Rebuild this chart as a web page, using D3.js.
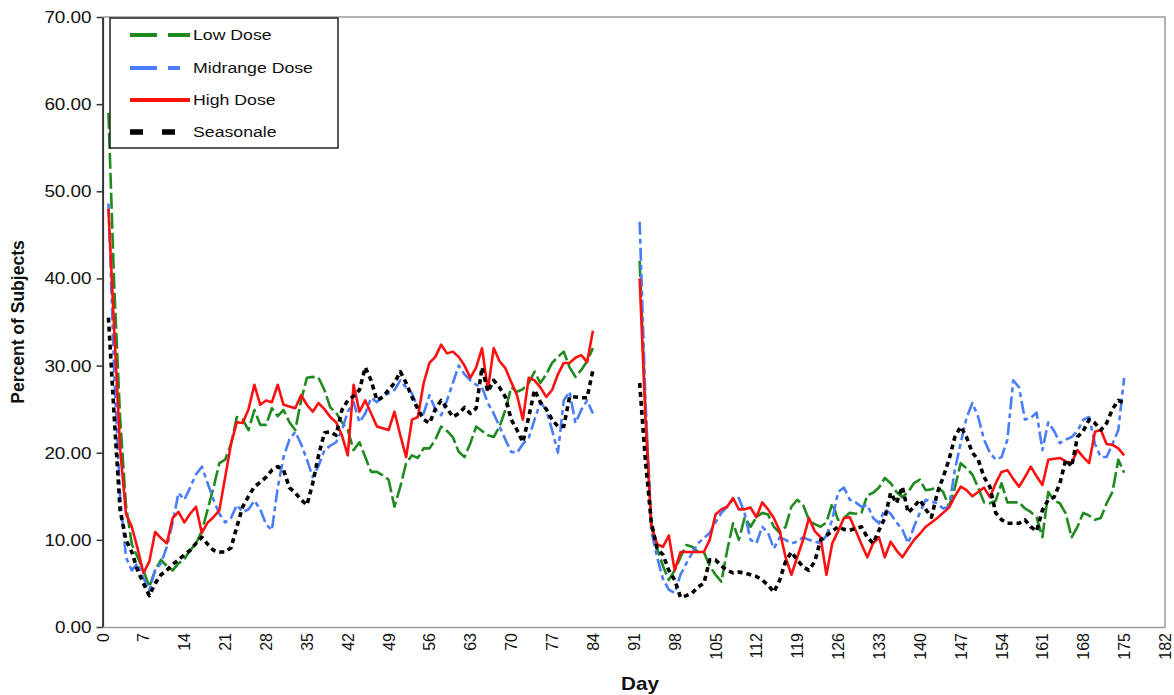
<!DOCTYPE html>
<html>
<head>
<meta charset="utf-8">
<script src="https://cdn.jsdelivr.net/npm/d3@7"></script>
<style>
  body { margin: 0; background: #fff; }
  svg { display: block; }
  text { font-family: "Liberation Sans", Arial, sans-serif; fill: #111; }
</style>
</head>
<body>
<div id="chart"></div>
<script>
// days in each treatment cycle
const cycle1Days = d3.range(1, 85);
const cycle2Days = d3.range(92, 176);

const lowDose1 = [59, 39, 24, 14, 9.5, 8, 6.5, 4.6, 6.5, 7.7,
  7, 6.5, 7.3, 7.8, 8.8, 9.6, 11, 13.5, 16, 18.8,
  19.2, 21, 24.1, 23.8, 22.6, 24.9, 23.2, 23.2, 25.1, 24.2,
  24.9, 23.5, 22.6, 26, 28.6, 28.7, 28.6, 27.2, 25.2, 24.6,
  23.5, 22.6, 20.3, 21.2, 19.5, 17.8, 17.8, 17.4, 16.9, 13.8,
  16.1, 18.8, 19.7, 19.4, 20.5, 20.5, 21.5, 23, 22.5, 21.8,
  20.1, 19.5, 21.1, 23, 22.5, 22, 21.8, 23, 24.9, 27.5,
  27, 27.3, 28, 29.3, 28, 29, 30.3, 31, 31.6, 29.8,
  28.7, 29.5, 30.5, 32];
const lowDose2 = [42, 25, 12, 9, 7, 5.4, 6.5, 8, 9.4, 9.2,
  8.6, 8.6, 7, 6, 5.2, 8.8, 11.9, 10, 12.6, 11.5,
  12.6, 13.1, 12.9, 11.5, 10.8, 11.5, 13.8, 14.6, 14, 12.3,
  11.8, 11.5, 12, 14.2, 12.3, 12.5, 13.1, 13, 13.1, 15.1,
  15.4, 16, 17.1, 16.5, 15.5, 14.9, 15.5, 16.5, 16.9, 15.7,
  15.8, 16.1, 15.5, 13.8, 16, 18.8, 18.2, 17.5, 16, 14.3,
  14.2, 14.5, 16.5, 14.3, 14.3, 14.3, 13.6, 13.2, 12.6, 10.3,
  15.5, 14.5, 14.2, 13, 10.3, 11.5, 13.1, 12.8, 12.3, 12.5,
  14.2, 15.5, 19.2, 17.7];

const midDose1 = [48.6, 29, 15, 8, 6.5, 7.3, 5.6, 4.2, 6.5, 7.3,
  9.2, 12, 15.4, 14.6, 16, 17.5, 18.4, 16.5, 14.6, 13,
  12, 12.5, 14, 13.2, 13.5, 14.5, 13.5, 11.8, 11.1, 16,
  19.5, 21.5, 22.4, 21, 19.2, 17.2, 18.5, 20.3, 20.8, 21.2,
  22.6, 24.7, 25.8, 23.5, 24.5, 26.3, 25.8, 26.5, 26.8, 27.2,
  28.3, 27.5, 26.8, 25.2, 24.5, 26.6, 25, 24.3, 26, 28,
  30, 29, 28.3, 27.8, 27.5, 25.7, 24.5, 23, 21.5, 20.1,
  20, 21, 21.7, 23.8, 25.8, 24.9, 22.6, 20, 26, 27,
  23.4, 24.9, 26, 24.5];
const midDose2 = [46.5, 26, 11, 8, 5.5, 4.3, 3.9, 6, 7.3, 8.5,
  9.6, 10.2, 10.8, 12, 13.1, 13.8, 14.6, 14.8, 13, 10,
  9.6, 11.5, 10.8, 9, 10.3, 10, 9.6, 9.8, 10.3, 10,
  9.8, 9.6, 10.5, 12.3, 15.5, 16, 14.6, 14.3, 13.8, 14,
  12.5, 11.9, 13.5, 13, 12, 11.2, 9.6, 11.5, 13.1, 14.6,
  14.4, 14.2, 13.6, 13.8, 18, 21.1, 24, 25.7, 24.1, 21.5,
  20, 19.2, 19.5, 21.5, 28.3, 27.5, 23.8, 24, 24.6, 20.3,
  23.5, 22.5, 21.1, 21.5, 21.8, 22.5, 23.8, 24.1, 21, 19.5,
  19.5, 21, 22.6, 28.6];

const highDose1 = [48, 34, 20.5, 13, 11.5, 9, 6.2, 7.5, 10.9, 10.2,
  9.6, 12.5, 13.2, 12, 13, 13.8, 10.8, 12, 12.6, 13.4,
  17.2, 21, 23.5, 23.4, 25, 27.8, 25.5, 26, 25.8, 27.8,
  25.5, 25.3, 25.1, 26.6, 25.5, 24.7, 25.7, 25, 24.1, 23.5,
  22, 19.7, 27.8, 24.7, 26, 24.5, 23, 22.8, 22.6, 24.7,
  22, 19.5, 23.8, 24.1, 28, 30.3, 31, 32.4, 31.4, 31.6,
  31, 30, 28.6, 29.8, 32, 27.2, 32, 30.5, 29.7, 28.1,
  26.6, 23.8, 28.6, 28.3, 27.5, 26.4, 27.2, 29, 30.3, 30.3,
  30.9, 31.2, 30.4, 34];
const highDose2 = [40, 24, 11.5, 9.5, 9.2, 10.5, 6.5, 8.6, 8.6, 8.6,
  8.6, 8.6, 10, 12.9, 13.5, 13.8, 14.8, 13.5, 13.5, 13.7,
  12.6, 14.3, 13.5, 12.5, 11, 8, 6, 8, 10, 12.5,
  11, 10.3, 6, 9.6, 11, 12.5, 12.6, 11.1, 9.5, 8,
  9.6, 10.3, 8, 9.8, 8.8, 8, 9, 10, 10.7, 11.5,
  12, 12.5, 13.1, 13.7, 15, 16.1, 15.7, 15, 15.5, 16,
  14.9, 16.5, 17.8, 18, 17, 16.1, 17.2, 18.4, 17.3, 16.3,
  19.2, 19.3, 19.4, 19, 18.8, 20.3, 19.5, 18.8, 22.4, 22.6,
  21, 20.9, 20.5, 19.7];

const seasonale1 = [35.5, 24, 13.4, 10, 8.6, 6.5, 5, 3.6, 5, 6,
  6.5, 7.2, 7.7, 8.3, 8.8, 9.6, 10.3, 9.5, 8.8, 8.6,
  8.6, 9.1, 11.5, 13.8, 15, 16.1, 16.6, 17.2, 18, 18.4,
  18, 16, 15.4, 14.6, 14, 16.5, 19.7, 22.3, 22.4, 22,
  24.9, 26, 26.5, 27.2, 29.8, 28.3, 26, 26.4, 27.2, 28,
  29.3, 28, 26.4, 25, 23.8, 23.4, 25, 26, 25.1, 24.1,
  24.5, 25.2, 24.5, 25.1, 29.8, 27, 28.3, 27.5, 26.4, 23.8,
  22.6, 21.2, 24.1, 27.2, 25.8, 25, 23.8, 23, 23, 26.4,
  26.4, 26.3, 26.3, 29.5];
const seasonale2 = [28, 19, 12, 9, 8.3, 6.5, 5.4, 3.4, 3.6, 3.9,
  4.6, 5, 7.7, 7.7, 7, 6.5, 6.2, 6.3, 6.2, 6,
  5.8, 5.4, 4.8, 4, 5.4, 7.5, 8.6, 7.7, 6.9, 6.5,
  7.5, 10, 10.5, 11, 11.5, 11.2, 11.1, 11.3, 11.5, 10.3,
  9.6, 11.1, 12.5, 15.4, 14.2, 16.1, 13.1, 13.8, 14.6, 13.5,
  12.6, 15.4, 17.2, 19.2, 21.8, 23, 21.8, 20, 19.2, 17.2,
  16.1, 13.1, 12.3, 11.9, 11.9, 11.9, 12.3, 11.5, 11, 13.4,
  14.6, 14.9, 16.5, 19.2, 18.4, 21.8, 22.5, 23.8, 23.4, 22.6,
  23.4, 25, 26, 25.7];

const seriesNames = ['Low Dose', 'Midrange Dose', 'High Dose', 'Seasonale'];
const yTicks = [0, 10, 20, 30, 40, 50, 60, 70];
const xTicks = d3.range(0, 183, 7);

const width = 1174;
const height = 695;

const series = [
  {name: seriesNames[0], color: '#1f8a1f', width: 2.6, dash: '16,4', legendDash: '27,11', legendWidth: 4, parts: [lowDose1, lowDose2]},
  {name: seriesNames[1], color: '#4a7dfa', width: 2.6, dash: '13,4,5,4', legendDash: '27,11,12,11', legendWidth: 4, parts: [midDose1, midDose2]},
  {name: seriesNames[2], color: '#ff1010', width: 2.6, dash: null, legendDash: null, legendWidth: 4, parts: [highDose1, highDose2]},
  {name: seriesNames[3], color: '#000', width: 3.6, dash: '5,4', legendDash: '13,19', legendWidth: 5.5, parts: [seasonale1, seasonale2]}
];

const svg = d3.select('#chart').append('svg')
    .attr('width', width)
    .attr('height', height);

const x = d3.scaleLinear().domain([0, 182]).range([102.6, 1165]);
const y = d3.scaleLinear().domain([0, 70]).range([627, 17]);

// plot frame (grey on top, right and bottom)
svg.append('path')
    .attr('d', `M${x(0)},${y(70)}H${x(182)}V${y(0)}`)
    .attr('fill', 'none')
    .attr('stroke', '#9a9a9a')
    .attr('stroke-width', 1.5);

// y axis
const yAxis = svg.append('g')
    .attr('transform', `translate(${x(0)},0)`)
    .call(d3.axisLeft(y).tickValues(yTicks).tickFormat(d3.format('.2f')).tickSize(6).tickSizeOuter(0));
yAxis.select('.domain').attr('stroke', '#333').attr('stroke-width', 2);
yAxis.selectAll('.tick line').attr('stroke', '#333').attr('stroke-width', 1.5);
yAxis.selectAll('.tick text')
    .attr('x', null)
    .attr('dy', null)
    .attr('text-anchor', 'end')
    .attr('dominant-baseline', 'central')
    .style('font-size', '16px')
    .attr('transform', 'translate(-11,0) scale(1.18,1)');

// x axis
const xAxis = svg.append('g')
    .attr('transform', `translate(0,${y(0)})`)
    .call(d3.axisBottom(x).tickValues(xTicks).tickSize(0).tickSizeOuter(0));
xAxis.select('.domain').attr('stroke', '#9a9a9a').attr('stroke-width', 1.5);
xAxis.selectAll('.tick text')
    .attr('y', null)
    .attr('dy', null)
    .attr('text-anchor', 'end')
    .attr('dominant-baseline', 'central')
    .style('font-size', '16px')
    .attr('transform', 'translate(0,6) rotate(-90)');
svg.selectAll('.tick text').attr('fill', '#111');

// axis titles
svg.append('text')
    .attr('transform', 'translate(640,690) scale(1.15,1)')
    .attr('text-anchor', 'middle')
    .style('font-size', '18px')
    .style('font-weight', 'bold')
    .text('Day');

svg.append('text')
    .attr('transform', 'translate(24,322) rotate(-90)')
    .attr('text-anchor', 'middle')
    .style('font-size', '17.5px')
    .style('font-weight', 'bold')
    .text('Percent of Subjects');

// lines, one path per cycle
const line = d3.line()
    .x(d => x(d.day))
    .y(d => y(d.value));

const plot = svg.append('g');
series.forEach(s => {
  [cycle1Days, cycle2Days].forEach((days, i) => {
    const pts = days.map((day, j) => ({day: day, value: s.parts[i][j]}));
    plot.append('path')
        .datum(pts)
        .attr('d', line)
        .attr('fill', 'none')
        .attr('stroke', s.color)
        .attr('stroke-width', s.width)
        .attr('stroke-linejoin', 'round')
        .attr('stroke-dasharray', s.dash);
  });
});

// legend
const legend = svg.append('g');
legend.append('rect')
    .attr('x', 110).attr('y', 18)
    .attr('width', 228).attr('height', 130)
    .attr('fill', '#fff')
    .attr('stroke', '#222')
    .attr('stroke-width', 1.5);
const legendY = [35, 68, 100, 132];
series.forEach((s, i) => {
  legend.append('line')
      .attr('x1', 130).attr('x2', 190)
      .attr('y1', legendY[i]).attr('y2', legendY[i])
      .attr('stroke', s.color)
      .attr('stroke-width', s.legendWidth)
      .attr('stroke-dasharray', s.legendDash);
  legend.append('text')
      .attr('transform', `translate(193,${legendY[i] + 5}) scale(1.18,1)`)
      .style('font-size', '15px')
      .text(s.name);
});
</script>
</body>
</html>
